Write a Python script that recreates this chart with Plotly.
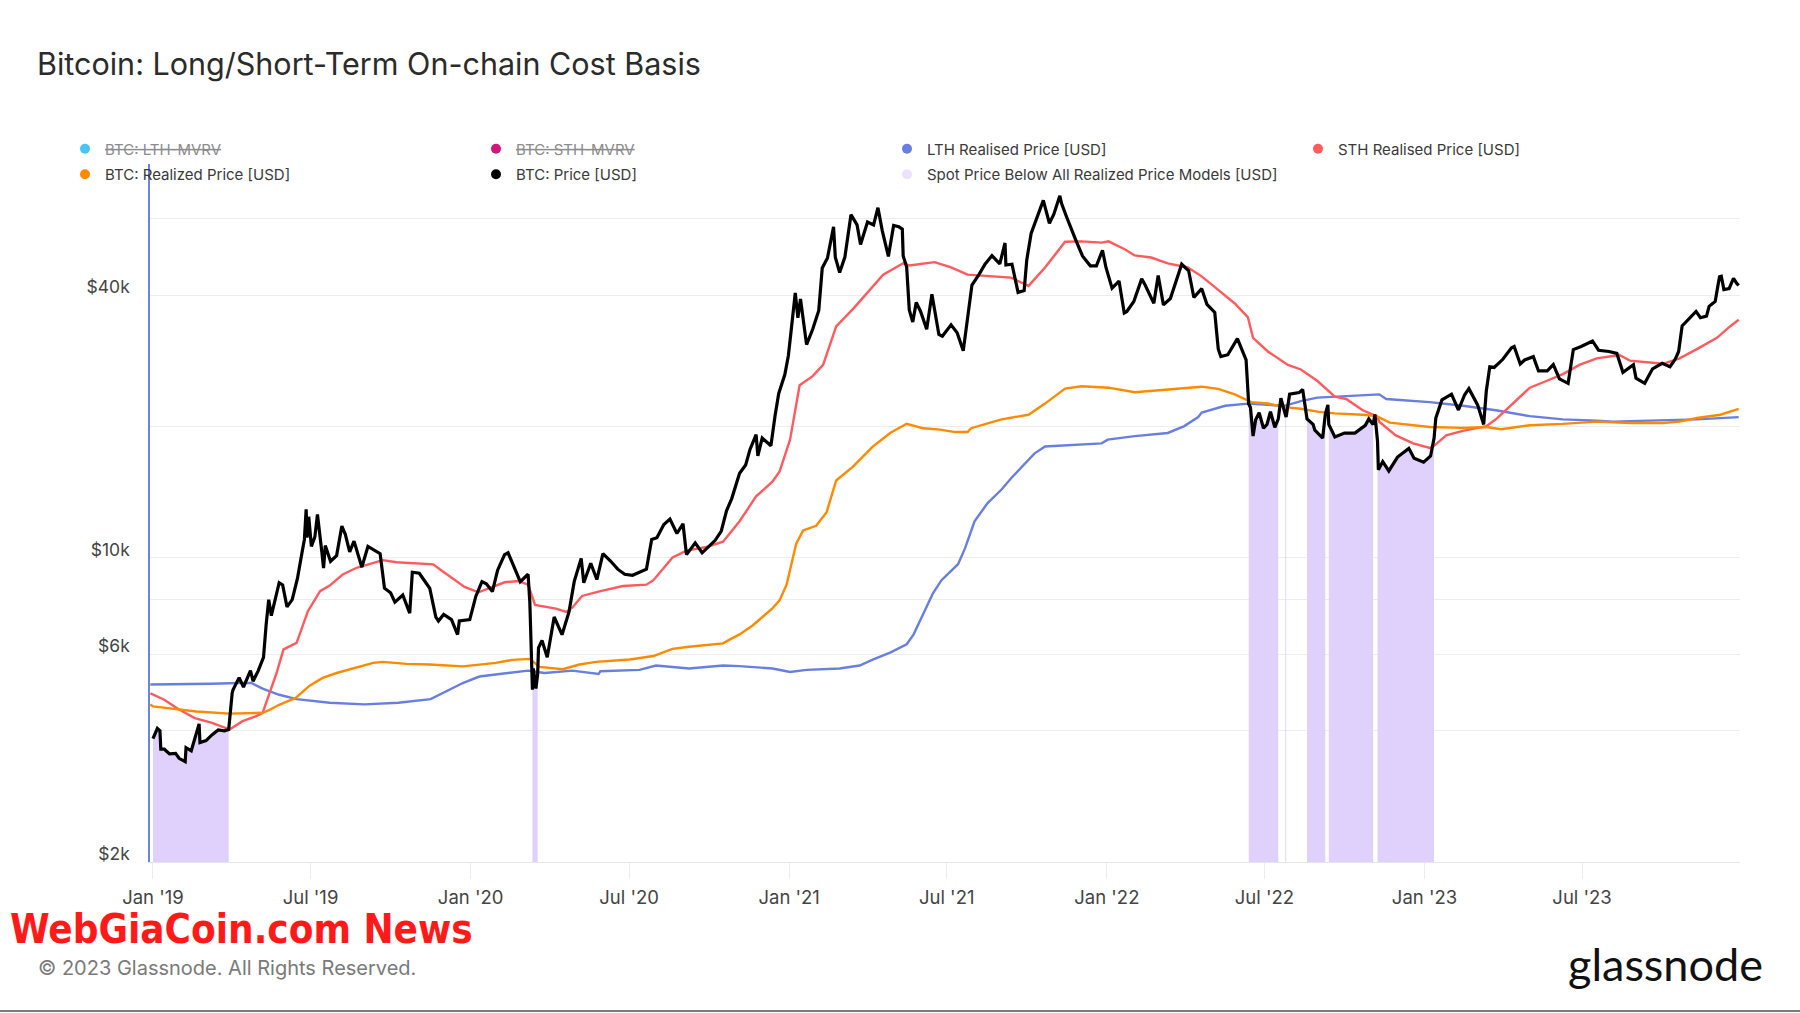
import math
import plotly.graph_objects as go

# ---------------- DATA ----------------
price_dates = [
    "2019-01-01", "2019-01-06", "2019-01-09", "2019-01-10", "2019-01-14", "2019-01-20", "2019-01-27", "2019-01-31",
    "2019-02-07", "2019-02-08", "2019-02-14", "2019-02-19", "2019-02-23", "2019-02-24",
    "2019-03-03", "2019-03-10", "2019-03-17", "2019-03-24", "2019-03-29",
    "2019-04-02", "2019-04-03", "2019-04-10", "2019-04-15", "2019-04-23", "2019-04-26",
    "2019-05-02", "2019-05-08", "2019-05-11", "2019-05-14", "2019-05-17", "2019-05-21", "2019-05-26", "2019-05-30",
    "2019-06-04", "2019-06-10", "2019-06-16", "2019-06-21", "2019-06-24", "2019-06-26", "2019-06-27", "2019-06-29",
    "2019-07-02", "2019-07-06", "2019-07-09", "2019-07-14", "2019-07-16", "2019-07-18", "2019-07-24", "2019-07-31",
    "2019-08-06", "2019-08-10", "2019-08-15", "2019-08-20", "2019-08-29",
    "2019-09-05", "2019-09-12", "2019-09-19", "2019-09-24",
    "2019-10-01", "2019-10-06", "2019-10-15", "2019-10-23", "2019-10-26",
    "2019-11-03", "2019-11-10", "2019-11-15", "2019-11-22", "2019-11-25",
    "2019-12-01", "2019-12-10", "2019-12-17", "2019-12-19", "2019-12-31",
    "2020-01-07", "2020-01-14", "2020-01-19", "2020-01-26",
    "2020-02-01", "2020-02-09", "2020-02-13", "2020-02-19", "2020-02-27",
    "2020-03-07", "2020-03-09", "2020-03-12", "2020-03-13", "2020-03-14", "2020-03-16", "2020-03-18", "2020-03-19", "2020-03-23", "2020-03-29",
    "2020-04-06", "2020-04-15", "2020-04-23", "2020-04-29",
    "2020-05-07", "2020-05-10", "2020-05-18", "2020-05-25",
    "2020-06-01", "2020-06-10", "2020-06-18", "2020-06-26",
    "2020-07-05", "2020-07-13", "2020-07-21", "2020-07-27",
    "2020-08-02", "2020-08-10", "2020-08-17", "2020-08-25",
    "2020-09-01", "2020-09-05", "2020-09-15", "2020-09-23",
    "2020-10-08", "2020-10-15", "2020-10-21", "2020-10-27",
    "2020-11-05", "2020-11-12", "2020-11-17", "2020-11-24", "2020-11-26",
    "2020-12-01", "2020-12-11", "2020-12-16", "2020-12-20", "2020-12-27", "2020-12-31",
    "2021-01-03", "2021-01-08", "2021-01-11", "2021-01-14", "2021-01-21", "2021-01-28",
    "2021-02-04", "2021-02-08", "2021-02-14", "2021-02-21", "2021-02-23", "2021-02-28",
    "2021-03-06", "2021-03-13", "2021-03-20", "2021-03-24",
    "2021-04-01", "2021-04-08", "2021-04-13", "2021-04-18", "2021-04-25",
    "2021-05-01", "2021-05-07", "2021-05-11", "2021-05-12", "2021-05-16", "2021-05-19", "2021-05-23", "2021-05-27",
    "2021-06-01", "2021-06-08", "2021-06-14", "2021-06-22", "2021-06-26",
    "2021-07-06", "2021-07-13", "2021-07-20", "2021-07-25", "2021-07-30",
    "2021-08-07", "2021-08-14", "2021-08-22", "2021-08-31",
    "2021-09-06", "2021-09-07", "2021-09-14", "2021-09-21", "2021-09-28",
    "2021-10-01", "2021-10-06", "2021-10-15", "2021-10-20", "2021-10-27",
    "2021-11-01", "2021-11-08", "2021-11-10", "2021-11-16", "2021-11-19", "2021-11-26",
    "2021-12-04", "2021-12-13", "2021-12-20", "2021-12-27", "2021-12-31",
    "2022-01-07", "2022-01-15", "2022-01-21", "2022-01-24",
    "2022-02-01", "2022-02-10", "2022-02-14", "2022-02-24",
    "2022-03-01", "2022-03-07", "2022-03-15", "2022-03-28",
    "2022-04-05", "2022-04-11", "2022-04-20", "2022-04-26",
    "2022-05-05", "2022-05-09", "2022-05-12", "2022-05-20", "2022-05-31",
    "2022-06-10", "2022-06-13", "2022-06-15", "2022-06-18", "2022-06-21", "2022-06-25", "2022-06-30",
    "2022-07-04", "2022-07-08", "2022-07-13", "2022-07-17", "2022-07-20", "2022-07-25", "2022-07-26", "2022-07-30",
    "2022-08-10", "2022-08-14", "2022-08-19", "2022-08-26", "2022-08-28",
    "2022-09-06", "2022-09-09", "2022-09-12", "2022-09-13", "2022-09-20",
    "2022-10-01", "2022-10-13", "2022-10-25", "2022-10-29",
    "2022-11-03", "2022-11-05", "2022-11-08", "2022-11-09", "2022-11-14", "2022-11-21",
    "2022-12-01", "2022-12-14", "2022-12-20", "2022-12-31",
    "2023-01-08", "2023-01-12", "2023-01-14", "2023-01-21",
    "2023-02-01", "2023-02-09", "2023-02-16", "2023-02-21",
    "2023-03-03", "2023-03-10", "2023-03-13", "2023-03-17", "2023-03-22",
    "2023-04-01", "2023-04-11", "2023-04-14", "2023-04-21", "2023-04-26",
    "2023-05-06", "2023-05-12", "2023-05-22", "2023-05-29",
    "2023-06-05", "2023-06-15", "2023-06-21", "2023-06-30",
    "2023-07-13", "2023-07-20",
    "2023-08-01", "2023-08-10", "2023-08-17", "2023-08-29",
    "2023-09-01", "2023-09-11", "2023-09-20",
    "2023-10-01", "2023-10-10", "2023-10-16", "2023-10-20", "2023-10-24",
    "2023-11-01", "2023-11-09", "2023-11-14", "2023-11-21", "2023-11-24",
    "2023-12-01", "2023-12-04", "2023-12-06", "2023-12-08", "2023-12-11", "2023-12-17", "2023-12-22", "2023-12-26", "2023-12-28",
]
price_usd = [
    3840, 4050, 4000, 3630, 3630, 3540, 3550, 3460,
    3400, 3660, 3600, 3930, 4150, 3760,
    3800, 3920, 4020, 4000, 4030,
    4880, 4970, 5300, 5040, 5500, 5200,
    5500, 5900, 7000, 8000, 7350, 7950, 8750, 8650,
    7700, 8000, 8950, 10200, 11000, 12900, 11100, 12400,
    10600, 11150, 12550, 10300, 9450, 10650, 9800, 10100,
    11800, 11300, 10300, 10900, 9500,
    10600, 10400, 10200, 8500,
    8300, 7900, 8200, 7450, 9250,
    9200, 8800, 8500, 7300, 7150,
    7400, 7200, 6650, 7150, 7200,
    8150, 8800, 8700, 8350,
    9350, 10150, 10250, 9600, 8800,
    9150, 7900, 4970, 5560, 5390, 5000, 5400, 6200, 6450, 5900,
    7300, 6650, 7500, 8800,
    9950, 8750, 9700, 8900,
    10200, 9800, 9400, 9150,
    9100, 9250, 9400, 11000,
    11100, 11900, 12250, 11350,
    11950, 10150, 10800, 10250,
    10950, 11500, 12800, 13650,
    15600, 16300, 17700, 19150, 17100,
    18800, 18050, 21300, 23800, 26300, 29000,
    32800, 40500, 35500, 39200, 30800, 33400,
    36900, 46200, 48700, 57400, 48900, 45100,
    48900, 61200, 58000, 52300,
    58900, 58000, 63500, 56200, 49100,
    57800, 57400, 56700, 49200, 46400, 37000, 34700, 38500,
    36700, 33400, 40200, 32500, 32200,
    34200, 32800, 29800, 35400, 42200,
    44600, 47100, 49300, 47200,
    52700, 46900, 47100, 40600, 41000,
    48200, 55400, 61600, 66000, 58500,
    61300, 67600, 64900, 60300, 58100, 53700,
    49200, 46700, 46700, 50700, 46300,
    41500, 43100, 36400, 36700,
    38700, 43600, 42200, 38300,
    44400, 38000, 39300, 47100,
    45500, 39500, 41400, 38100,
    36500, 30100, 28900, 29200, 31800,
    28400, 22500, 22100, 19000, 20700, 21500, 19800,
    20200, 21600, 19900, 20800, 23200, 21300, 21000, 23700,
    23900, 24300, 20800, 20200, 19600,
    18800, 21300, 22400, 20200, 18900,
    19300, 19300, 20100, 20800,
    20200, 21300, 18500, 15900, 16600, 15800,
    17000, 17800, 16900, 16550,
    17100, 18800, 20900, 23000,
    23700, 21800, 23600, 24400,
    22400, 20200, 24100, 27400, 27300,
    28500, 30300, 30500, 27800, 28400,
    28900, 26800, 26800, 27700,
    25700, 25100, 30000, 30500,
    31400, 29900,
    29700, 29400, 26600, 27700,
    25800, 25100, 27100,
    27900, 27400, 28500, 29700, 34000,
    35400, 36700, 35500, 35800, 37700,
    38700, 41900, 44100, 44200, 41200, 41400, 43700, 42500, 42100,
]

lth_dates = [
    "2018-12-29", "2019-01-30", "2019-03-09", "2019-04-10", "2019-04-24", "2019-05-07", "2019-05-26",
    "2019-06-15", "2019-07-23", "2019-09-01", "2019-10-10", "2019-11-16", "2019-12-04", "2019-12-23",
    "2020-01-11", "2020-02-18", "2020-03-07", "2020-03-26", "2020-04-27", "2020-05-27", "2020-05-29",
    "2020-07-13", "2020-08-01", "2020-09-08", "2020-10-17", "2020-11-05", "2020-12-13", "2021-01-02",
    "2021-01-21", "2021-02-28", "2021-03-23", "2021-04-07", "2021-04-27", "2021-05-16", "2021-05-24",
    "2021-06-04", "2021-06-15", "2021-06-25", "2021-07-14", "2021-07-22", "2021-08-02", "2021-08-17",
    "2021-09-02", "2021-09-13", "2021-09-25", "2021-10-10", "2021-10-22", "2021-11-17", "2021-12-26",
    "2022-01-02", "2022-02-02", "2022-03-12", "2022-03-31", "2022-04-16", "2022-04-20", "2022-05-17",
    "2022-06-12", "2022-07-24", "2022-08-12", "2022-08-31", "2022-09-20", "2022-10-22", "2022-11-10",
    "2022-11-18", "2023-01-07", "2023-02-14", "2023-03-24", "2023-05-02", "2023-06-09", "2023-07-18",
    "2023-08-06", "2023-08-25", "2023-10-02", "2023-11-10", "2023-12-28",
]
lth_usd = [
    5110, 5110, 5130, 5150, 5150, 5000, 4840,
    4730, 4640, 4600, 4640, 4730, 4930, 5150,
    5330, 5430, 5500, 5430, 5500, 5400, 5480,
    5520, 5650, 5560, 5650, 5630, 5560, 5460,
    5520, 5560, 5650, 5830, 6050, 6320, 6660,
    7420, 8260, 8870, 9650, 10490, 12110, 13330,
    14320, 15200, 16140, 17340, 17980, 18110, 18280,
    18640, 18990, 19310, 20020, 21000, 21500, 22290,
    22550, 22290, 22840, 23270, 23380, 23560, 23680,
    23110, 22730, 22290, 21770, 21100, 20750, 20610,
    20500, 20560, 20660, 20750, 21000,
]

sth_dates = [
    "2018-12-29", "2019-01-14", "2019-01-30", "2019-02-18", "2019-03-09", "2019-03-30", "2019-04-14",
    "2019-04-29", "2019-05-07", "2019-05-15", "2019-05-23", "2019-05-31", "2019-06-15", "2019-06-28",
    "2019-07-12", "2019-07-23", "2019-08-07", "2019-08-23", "2019-09-11", "2019-09-22", "2019-10-08",
    "2019-10-27", "2019-11-19", "2019-11-27", "2019-12-10", "2019-12-25", "2020-01-10", "2020-01-25",
    "2020-02-09", "2020-02-25", "2020-03-07", "2020-03-15", "2020-03-26", "2020-04-08", "2020-04-20",
    "2020-04-27", "2020-05-08", "2020-05-28", "2020-06-24", "2020-07-21", "2020-07-29", "2020-08-20",
    "2020-09-05", "2020-09-28", "2020-10-17", "2020-11-05", "2020-11-24", "2020-12-13", "2020-12-21",
    "2021-01-02", "2021-01-13", "2021-01-28", "2021-02-09", "2021-02-24", "2021-03-16", "2021-04-07",
    "2021-04-19", "2021-05-12", "2021-05-19", "2021-06-17", "2021-07-06", "2021-07-25", "2021-08-13",
    "2021-09-13", "2021-10-03", "2021-10-22", "2021-11-14", "2021-12-03", "2021-12-26", "2022-01-03",
    "2022-01-22", "2022-02-02", "2022-02-21", "2022-03-12", "2022-04-04", "2022-04-20", "2022-05-09",
    "2022-05-28", "2022-06-12", "2022-06-18", "2022-07-05", "2022-07-28", "2022-08-12", "2022-08-31",
    "2022-09-20", "2022-10-03", "2022-10-22", "2022-11-07", "2022-11-10", "2022-11-29", "2022-12-19",
    "2023-01-07", "2023-01-11", "2023-01-26", "2023-02-14", "2023-03-13", "2023-03-24", "2023-04-13",
    "2023-05-02", "2023-05-21", "2023-06-09", "2023-06-28", "2023-07-18", "2023-08-13", "2023-08-25",
    "2023-10-02", "2023-10-21", "2023-11-10", "2023-12-03", "2023-12-18", "2023-12-28",
]
sth_usd = [
    4880, 4716, 4490, 4280, 4180, 4030, 4210,
    4320, 4400, 4890, 5430, 6150, 6370, 7530,
    8370, 8620, 9140, 9470, 9720, 9860, 9750,
    9690, 9640, 9380, 8980, 8560, 8320, 8560,
    8770, 8830, 8660, 7780, 7720, 7630, 7500,
    7680, 8160, 8360, 8600, 8660, 8870, 10000,
    10370, 10570, 10870, 12110, 13810, 14940, 15760,
    18640, 24850, 26070, 27670, 33900, 37300, 42000,
    44580, 47330, 46800, 47620, 46300, 44580, 44270,
    43880, 42000, 46300, 53030, 53150, 52790, 53150,
    50920, 49340, 48800, 47330, 46300, 44180, 41130,
    38280, 35630, 31930, 29700, 27670, 27010, 25410,
    23380, 23110, 21770, 21100, 20500, 19060, 18270,
    17840, 17970, 19060, 19530, 20020, 20750, 22550,
    24530, 25410, 26360, 27670, 28640, 29150, 28300,
    27830, 28640, 30070, 31930, 33900, 35120,
]

rp_dates = [
    "2018-12-29", "2019-01-01", "2019-02-20", "2019-03-30", "2019-05-07", "2019-05-15", "2019-05-26",
    "2019-06-14", "2019-06-30", "2019-07-15", "2019-07-31", "2019-08-23", "2019-09-11", "2019-09-22",
    "2019-10-19", "2019-11-15", "2019-12-23", "2020-01-30", "2020-02-18", "2020-03-09", "2020-03-20",
    "2020-04-16", "2020-05-05", "2020-05-24", "2020-07-02", "2020-07-29", "2020-08-20", "2020-09-08",
    "2020-10-17", "2020-10-24", "2020-11-05", "2020-11-20", "2020-12-13", "2020-12-21", "2020-12-29",
    "2021-01-09", "2021-01-17", "2021-02-01", "2021-02-13", "2021-02-24", "2021-03-15", "2021-04-07",
    "2021-04-27", "2021-05-16", "2021-06-04", "2021-06-23", "2021-07-11", "2021-07-25", "2021-07-29",
    "2021-09-02", "2021-10-03", "2021-10-22", "2021-11-14", "2021-12-03", "2022-01-03", "2022-02-02",
    "2022-03-12", "2022-04-20", "2022-05-09", "2022-05-28", "2022-06-16", "2022-07-05", "2022-07-24",
    "2022-08-12", "2022-08-31", "2022-09-20", "2022-10-22", "2022-11-07", "2022-11-22", "2023-01-07",
    "2023-02-14", "2023-03-13", "2023-03-30", "2023-05-02", "2023-06-09", "2023-07-18", "2023-08-25",
    "2023-10-02", "2023-10-21", "2023-11-10", "2023-12-07", "2023-12-28",
]
rp_usd = [
    4600, 4550, 4430, 4380, 4400, 4470, 4590,
    4760, 5080, 5290, 5430, 5580, 5730, 5760,
    5700, 5680, 5625, 5730, 5820, 5850, 5610,
    5540, 5680, 5760, 5830, 5940, 6170, 6240,
    6350, 6470, 6660, 6980, 7650, 7970, 8660,
    10740, 11540, 11820, 12700, 15020, 16140, 17970,
    19310, 20270, 19790, 19650, 19400, 19400, 19800,
    20750, 21260, 22550, 24420, 24720, 24530, 23950,
    24250, 24660, 24370, 23670, 22730, 22560, 22130,
    21940, 21620, 21410, 21260, 21100, 20390, 19930,
    19840, 19930, 19700, 20110, 20260, 20500, 20360,
    20360, 20500, 20900, 21260, 21940,
]

# periods where spot price sits below all realized price models
below_start = ["2019-01-01", "2020-03-12", "2022-06-13", "2022-07-25", "2022-08-19", "2022-09-13", "2022-11-08"]
below_end = ["2019-03-29", "2020-03-18", "2022-07-17", "2022-07-26", "2022-09-09", "2022-11-03", "2023-01-12"]

y_tick_vals = [2000, 4000, 6000, 8000, 10000, 20000, 40000, 60000, 80000]
y_tick_text = ["$2k", "", "$6k", "", "$10k", "", "$40k", "", ""]

assert len(price_dates) == len(price_usd)
assert len(lth_dates) == len(lth_usd)
assert len(sth_dates) == len(sth_usd)
assert len(rp_dates) == len(rp_usd)

# ---------------- STYLE ----------------
C_LTH = "#687fe0"
C_STH = "#ff5a5e"
C_RP = "#ff8a00"
C_PRICE = "#000000"
C_BELOW = "#e0d1fc"
C_LTH_MVRV = "#4cc3f5"
C_STH_MVRV = "#d0177c"
FONT = "Inter, Roboto, sans-serif"

W, H = 1800, 1013
ML, MR, MT, MB = 150, 60, 164, 151
PW, PH = W - ML - MR, H - MT - MB


def px(x):
    return (x - ML) / PW


def py(y):
    return (H - MB - y) / PH


fig = go.Figure()

# purple "below" areas, one filled segment per period
for s, e in zip(below_start, below_end):
    seg = [(d, v) for d, v in zip(price_dates, price_usd) if s <= d <= e]
    fig.add_trace(go.Scatter(x=[d for d, _ in seg], y=[v for _, v in seg], mode="lines",
                             line=dict(width=1, color="#d9c6fb"),
                             fill="tozeroy", fillcolor=C_BELOW,
                             showlegend=False, hoverinfo="skip"))

fig.add_trace(go.Scatter(x=lth_dates, y=lth_usd, mode="lines", line=dict(color=C_LTH, width=2.4),
                         showlegend=False))
fig.add_trace(go.Scatter(x=sth_dates, y=sth_usd, mode="lines", line=dict(color=C_STH, width=2.4),
                         showlegend=False))
fig.add_trace(go.Scatter(x=rp_dates, y=rp_usd, mode="lines", line=dict(color=C_RP, width=2.4),
                         showlegend=False))
fig.add_trace(go.Scatter(x=price_dates, y=price_usd, mode="lines", line=dict(color=C_PRICE, width=3.2),
                         showlegend=False))

# legend entries (dot markers), two rows
legend_row1 = [
    ("<span style='color:#8c8c8c'><s>BTC: LTH-MVRV</s></span>", C_LTH_MVRV),
    ("<span style='color:#8c8c8c'><s>BTC: STH-MVRV</s></span>", C_STH_MVRV),
    ("LTH Realised Price [USD]", C_LTH),
    ("STH Realised Price [USD]", C_STH),
]
legend_row2 = [
    ("BTC: Realized Price [USD]", C_RP),
    ("BTC: Price [USD]", C_PRICE),
    ("Spot Price Below All Realized Price Models [USD]", "#ece2fd"),
]
for name, col in legend_row1:
    fig.add_trace(go.Scatter(x=[None], y=[None], mode="markers", name=name, legend="legend",
                             marker=dict(size=10, color=col, symbol="circle")))
for name, col in legend_row2:
    fig.add_trace(go.Scatter(x=[None], y=[None], mode="markers", name=name, legend="legend2",
                             marker=dict(size=10, color=col, symbol="circle")))

legend_common = dict(orientation="h", entrywidth=366, entrywidthmode="pixels", itemwidth=30,
                     font=dict(family=FONT, size=15, color="#3a3a3a"),
                     bgcolor="rgba(0,0,0,0)", traceorder="normal")

fig.update_layout(
    width=W, height=H,
    margin=dict(l=ML, r=MR, t=MT, b=MB, autoexpand=False),
    paper_bgcolor="white", plot_bgcolor="white",
    font=dict(family=FONT, color="#444"),
    title=dict(text="Bitcoin: Long/Short-Term On-chain Cost Basis", xref="container", yref="container",
               x=37 / W, xanchor="left", y=1 - 64 / H, yanchor="middle",
               font=dict(family=FONT, size=30.5, color="#2b2b2b")),
    legend=dict(x=px(65), xanchor="left", y=py(149), yanchor="middle", **legend_common),
    legend2=dict(xref="container", yref="container", x=65 / W, xanchor="left",
                 y=1 - 174.5 / H, yanchor="middle", **legend_common),
    showlegend=True,
    hovermode=False,
)

fig.update_xaxes(
    type="date", range=["2018-12-28 14:00", "2023-12-29 12:00"],
    dtick="M6", tick0="2019-01-01", tickformat="%b '%y",
    showgrid=False, zeroline=False,
    showline=True, linecolor="#e6e6e6", linewidth=1,
    ticks="outside", ticklen=16, tickcolor="#ececec", tickwidth=1,
    tickfont=dict(family=FONT, size=18.5, color="#444"),
    ticklabelstandoff=3,
)
fig.update_yaxes(
    type="log", range=[math.log10(2000), math.log10(80000)],
    tickvals=y_tick_vals, ticktext=y_tick_text,
    showgrid=True, gridcolor="#ededed", gridwidth=1, zeroline=False,
    showline=True, linecolor="#6b82e6", linewidth=1.5,
    ticks="", tickfont=dict(family=FONT, size=17.5, color="#444"),
    ticklabelstandoff=15, ticklabelshift=-8,
)

annotations = [
    dict(text="© 2023 Glassnode. All Rights Reserved.", x=px(36), y=py(968), xanchor="left", yanchor="middle",
         font=dict(family=FONT, size=20, color="#7a7a7a")),
    dict(text="glassnode", x=px(1765), y=py(964), xanchor="right", yanchor="middle",
         font=dict(family="Lato, Inter, sans-serif", size=45, color="#111")),
    dict(text="<b>WebGiaCoin.com News</b>", x=px(8), y=py(929), xanchor="left", yanchor="middle",
         height=44, valign="middle",
         font=dict(family="Liberation Sans Narrow, DejaVu Sans Condensed, sans-serif", size=40, color="#ff1a1a")),
]
for a in annotations:
    a.update(xref="paper", yref="paper", showarrow=False)
fig.update_layout(annotations=annotations)

fig.add_shape(type="line", xref="paper", yref="paper", x0=px(0), x1=px(W), y0=py(1011), y1=py(1011),
              line=dict(color="#7a7a7a", width=2))

fig.write_html("out.html", config={"displayModeBar": False},
               post_script="document.body.style.margin='0';")
